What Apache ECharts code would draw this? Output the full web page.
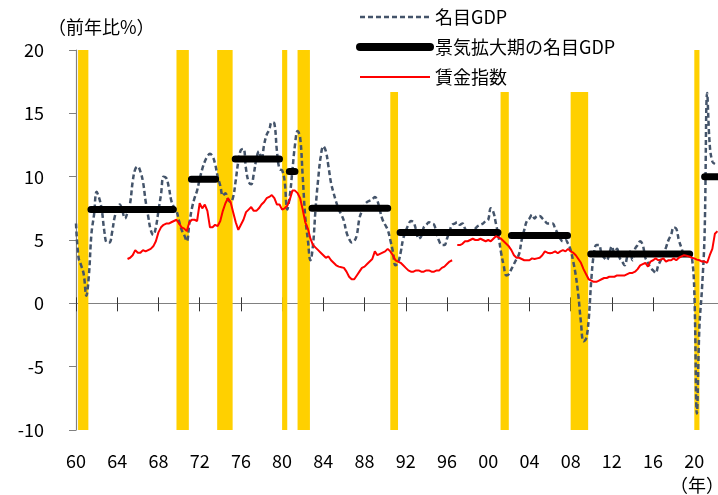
<!DOCTYPE html>
<html>
<head>
<meta charset="utf-8">
<script src="https://cdn.jsdelivr.net/npm/echarts@6/dist/echarts.min.js"></script>
<style>
html, body { margin: 0; padding: 0; background: #fff; }
#myecharts { width: 718px; height: 495px; }
</style>
</head>
<body>
<div id="myecharts"></div>
<script>
// 名目GDP（前年比%、四半期）1960年Q1から
const gdpStart = 1960
const gdpValues = [
  6.3, 3.6, 3.0, 2.3, 0.6, 2.2, 5.5, 7.0, 8.8, 8.3, 7.4, 5.7, 4.8, 4.8, 5.6, 6.8,
  7.4, 7.8, 7.3, 6.7, 7.2, 7.9, 9.6, 10.6, 10.8, 10.4, 9.6, 8.1, 6.9, 5.8, 5.4, 6.0,
  7.3, 8.6, 10.0, 9.9, 9.2, 8.1, 7.6, 7.3, 6.5, 5.8, 5.4, 4.9, 6.3, 7.5, 8.3, 8.9,
  9.8, 10.6, 11.2, 11.6, 11.8, 11.6, 11.0, 10.0, 9.3, 8.5, 8.7, 8.2, 8.0, 8.4, 9.7, 11.2,
  12.1, 12.2, 10.6, 9.6, 9.4, 10.2, 11.4, 12.0, 11.3, 12.5, 13.3, 13.7, 14.3, 14.2, 12.0, 10.6,
  10.5, 9.6, 7.4, 8.5, 10.5, 12.5, 13.6, 13.1, 10.0, 6.8, 5.0, 3.4, 4.6, 7.5, 9.8, 11.6,
  12.4, 12.0, 10.8, 9.5, 8.7, 8.0, 7.4, 7.0, 6.5, 5.6, 5.1, 4.8, 4.9, 5.4, 6.7, 7.3,
  7.8, 8.0, 8.1, 8.2, 8.4, 8.1, 7.3, 6.6, 6.2, 5.8, 5.0, 4.1, 3.0, 3.2, 4.0, 5.1,
  5.7, 6.2, 6.5, 6.4, 5.8, 5.1, 5.3, 6.0, 6.2, 6.4, 6.3, 6.2, 5.5, 4.9, 4.6, 4.6,
  5.1, 5.7, 6.2, 6.3, 6.4, 6.2, 6.3, 5.9, 5.6, 5.5, 5.7, 5.9, 6.1, 6.2, 6.3, 6.5,
  6.6, 7.5, 7.2, 6.3, 5.3, 4.0, 3.0, 2.2, 2.3, 2.7, 3.1, 3.5, 3.9, 5.0, 5.8, 6.5,
  6.7, 7.0, 6.7, 6.9, 6.9, 6.7, 6.5, 6.3, 6.3, 6.3, 5.9, 5.5, 5.1, 4.9, 5.0, 4.7,
  4.2, 3.3, 2.2, 0.6, -1.5, -3.0, -2.8, -1.3, 1.8, 3.9, 4.6, 4.6, 3.9, 3.6, 3.4, 3.9,
  4.5, 4.0, 4.3, 3.6, 3.3, 3.0, 3.7, 4.1, 3.4, 4.3, 4.6, 4.9, 4.6, 3.6, 3.2, 2.8,
  2.6, 2.4, 3.0, 3.4, 3.9, 4.4, 5.0, 5.4, 6.0, 5.9, 5.0, 4.4, 3.9, 3.9, 3.9, 3.7,
  1.0, -8.7, -1.8, 1.2, 5.5, 16.6, 12.5, 11.2, 11.0
]
// 賃金指数（前年比%、四半期）1965年Q1から、1996年Q4は欠損
const wageStart = 1965
const wageValues = [
  3.5, 3.6, 3.8, 4.2, 4.0, 4.0, 4.2, 4.1, 4.2, 4.3, 4.5, 4.9, 5.6, 6.0, 6.2, 6.3,
  6.3, 6.4, 6.5, 6.6, 6.3, 6.0, 5.9, 5.7, 6.4, 6.6, 6.6, 6.5, 7.9, 7.5, 7.8, 7.3,
  6.0, 6.0, 6.2, 6.1, 6.5, 7.3, 7.9, 8.3, 8.0, 7.2, 6.4, 5.8, 6.2, 6.6, 7.2, 7.4,
  7.6, 7.3, 7.3, 7.5, 7.8, 8.0, 8.3, 8.4, 8.55, 8.3, 7.8, 7.8, 7.4, 7.5, 7.7, 8.2,
  8.9, 8.9, 8.7, 8.3, 7.4, 6.4, 5.9, 5.1, 4.6, 4.4, 4.2, 4.0, 3.8, 3.6, 3.7, 3.4,
  3.2, 3.0, 2.9, 2.85, 2.8, 2.5, 2.1, 1.9, 1.9, 2.2, 2.5, 2.8, 2.9, 3.1, 3.3, 3.5,
  4.1, 3.8, 3.9, 4.0, 4.1, 4.3, 4.1, 3.8, 3.4, 3.3, 3.2, 3.0, 2.8, 2.6, 2.5, 2.5,
  2.6, 2.6, 2.5, 2.5, 2.6, 2.6, 2.5, 2.5, 2.6, 2.6, 2.8, 2.9, 3.1, 3.3, 3.4, null,
  4.6, 4.6, 4.7, 4.9, 4.9, 5.0, 5.1, 5.0, 5.0, 5.1, 5.0, 4.9, 5.0, 4.9, 5.1, 5.3,
  5.2, 5.1, 4.9, 4.7, 4.5, 4.2, 3.8, 3.6, 3.6, 3.5, 3.4, 3.4, 3.4, 3.55, 3.5, 3.55,
  3.6, 3.8, 4.1, 4.0, 3.95, 4.0, 4.1, 3.95, 4.1, 4.2, 4.1, 4.3, 4.1, 4.0, 3.8, 3.5,
  3.2, 2.7, 2.3, 1.9, 1.8, 1.7, 1.7, 1.8, 1.9, 2.0, 2.0, 2.1, 2.1, 2.1, 2.2, 2.2,
  2.2, 2.2, 2.3, 2.4, 2.4, 2.5, 2.7, 3.0, 3.1, 3.2, 2.9, 3.3, 3.4, 3.55, 3.4, 3.45,
  3.55, 3.3, 3.4, 3.4, 3.55, 3.4, 3.6, 3.7, 3.8, 3.75, 3.7, 3.6, 3.55, 3.45, 3.4, 3.3,
  3.3, 3.2, 3.8, 4.3, 5.5, 5.7
]
// 景気後退期（網掛け）
const recessionStart = [1960.2, 1969.75, 1973.7, 1980.0, 1981.5, 1990.5, 2001.2, 2008.0, 2020.0]
const recessionEnd = [1961.2, 1970.95, 1975.2, 1980.5, 1982.7, 1991.25, 2002.0, 2009.7, 2020.5]
// 景気拡大期の名目GDP（期間平均）
const expansionStart = [1961.45, 1971.2, 1975.45, 1980.7, 1982.9, 1991.45, 2002.25, 2009.95, 2021.0]
const expansionEnd = [1969.45, 1973.55, 1979.75, 1981.25, 1990.25, 2000.95, 2007.7, 2019.55, 2022.3]
const expansionValue = [7.4, 9.8, 11.4, 10.4, 7.5, 5.6, 5.35, 3.9, 10.0]
// 目盛り
const xTickYears = [1960, 1964, 1968, 1972, 1976, 1980, 1984, 1988, 1992, 1996, 2000, 2004, 2008, 2012, 2016, 2020]

const FONT = "'Noto Sans CJK JP', 'Noto Sans', sans-serif"
const toPairs = (start, arr) => arr.map((v, i) => [start + i * 0.25, v])

const expansionData = []
expansionStart.forEach((s, i) => {
  expansionData.push([s, expansionValue[i]])
  expansionData.push([expansionEnd[i], expansionValue[i]])
  expansionData.push([expansionEnd[i] + 0.01, null])
})

const bands = recessionStart.map((s, i) => [{ xAxis: s }, { xAxis: recessionEnd[i] }])

// x軸の共通設定
const xBase = { type: 'value', min: 1960, max: 2022.3, interval: 4, splitLine: { show: false } }
// 0%線用の見えないy軸
const yHidden = {
  type: 'value', min: -10, max: 20, interval: 5,
  axisLine: { show: false }, axisTick: { show: false }, axisLabel: { show: false }, splitLine: { show: false }
}

let myChart = echarts.init(document.getElementById('myecharts'))
myChart.setOption({
  animation: false,
  textStyle: { fontFamily: FONT, color: '#000' },
  grid: { left: 76, right: 0, top: 50, bottom: 65 },
  legend: {
    orient: 'vertical',
    left: 350,
    top: 0,
    padding: [6, 10, 4, 6],
    backgroundColor: '#fff',
    itemWidth: 70,
    itemHeight: 14,
    itemGap: 8,
    z: 10,
    itemStyle: { opacity: 0 },
    textStyle: { fontSize: 18, lineHeight: 22, color: '#000', fontFamily: FONT },
    data: [
      { name: '名目GDP', lineStyle: { width: 2.5 } },
      { name: '景気拡大期の名目GDP', lineStyle: { width: 8 } },
      { name: '賃金指数', lineStyle: { width: 2.2 } }
    ]
  },
  xAxis: [
    // 年ラベル（下端）
    Object.assign({}, xBase, {
      position: 'bottom',
      axisLine: { show: false, onZero: false },
      axisTick: { show: false },
      axisLabel: {
        customValues: xTickYears,
        fontSize: 18,
        margin: 22,
        color: '#000',
        formatter: v => (v % 4 === 0 ? String(v).slice(2) : '')
      }
    }),
    // 0%の線（下向き目盛り）
    Object.assign({}, xBase, {
      position: 'bottom',
      axisLine: { onZero: true, onZeroAxisIndex: 0, lineStyle: { color: '#808080', width: 1.2 } },
      axisTick: { customValues: xTickYears, length: 8, lineStyle: { color: '#333' } },
      axisLabel: { show: false }
    }),
    // 0%の線（上向き目盛り）
    Object.assign({}, xBase, {
      position: 'top',
      axisLine: { onZero: true, onZeroAxisIndex: 1, lineStyle: { color: '#808080', width: 1.2 } },
      axisTick: { customValues: xTickYears, length: 6, lineStyle: { color: '#333' } },
      axisLabel: { show: false }
    })
  ],
  yAxis: [
    {
      type: 'value',
      min: -10,
      max: 20,
      interval: 5,
      axisLine: { show: true, lineStyle: { color: '#808080', width: 1.2 } },
      axisTick: { show: true, length: 7, lineStyle: { color: '#808080' } },
      axisLabel: { fontSize: 18, margin: 32, color: '#000' },
      splitLine: { show: false }
    },
    yHidden
  ],
  graphic: [
    { type: 'text', left: 48, top: 18, style: { text: '（前年比%）', fontSize: 18, fill: '#000', fontFamily: FONT } },
    { type: 'text', left: 670, top: 476, style: { text: '（年）', fontSize: 18, fill: '#000', fontFamily: FONT } }
  ],
  series: [
    {
      // 景気後退期の網掛け
      name: 'recession',
      type: 'line',
      data: [],
      z: 1,
      silent: true,
      markArea: { silent: true, itemStyle: { color: '#FFD000' }, data: bands }
    },
    {
      name: '名目GDP',
      type: 'line',
      data: toPairs(gdpStart, gdpValues),
      smooth: 0.4,
      symbol: 'none',
      z: 3,
      lineStyle: { color: '#44546A', width: 2.5, type: [5, 3] },
      color: '#44546A'
    },
    {
      name: '景気拡大期の名目GDP',
      type: 'line',
      data: expansionData,
      symbol: 'none',
      connectNulls: false,
      z: 4,
      lineStyle: { color: '#000', width: 7, cap: 'round' },
      color: '#000'
    },
    {
      name: '賃金指数',
      type: 'line',
      data: toPairs(wageStart, wageValues),
      symbol: 'none',
      connectNulls: false,
      z: 5,
      lineStyle: { color: '#FF0000', width: 2 },
      color: '#FF0000'
    }
  ]
})
</script>
</body>
</html>
